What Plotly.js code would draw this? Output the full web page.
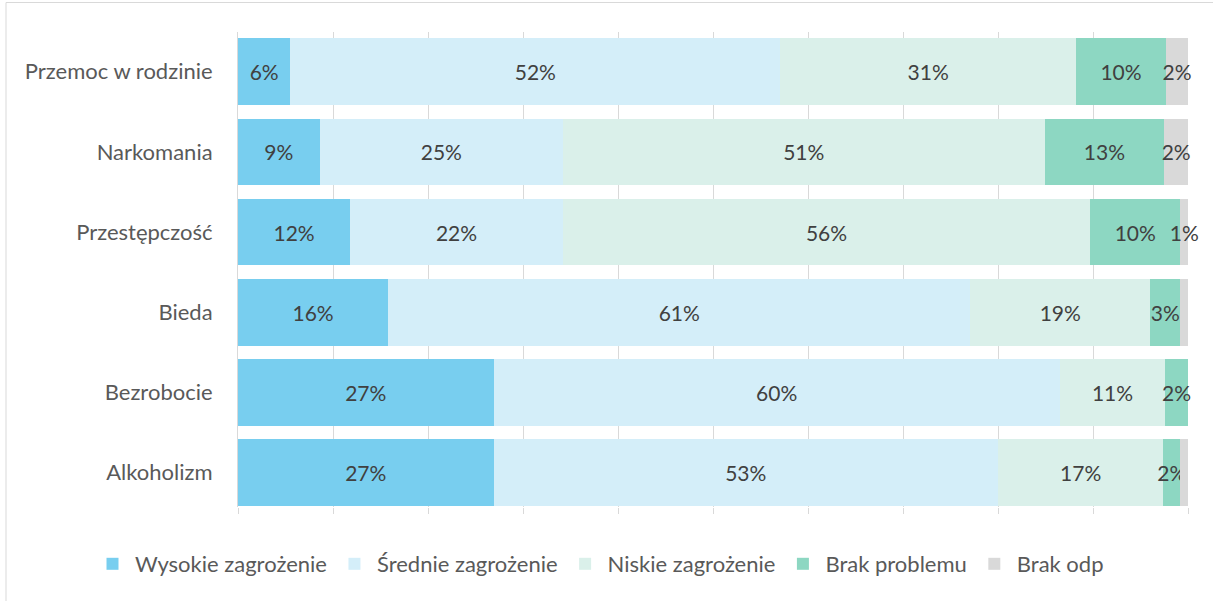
<!DOCTYPE html>
<html>
<head>
<meta charset="utf-8">
<script src="https://cdn.plot.ly/plotly-3.0.1.min.js"></script>
<style>html,body{margin:0;padding:0;background:#fff;}#chart{width:1213px;height:601px;}</style>
</head>
<body>
<div id="chart"></div>
<script>
// Categories, top to bottom
const categories = ["Przemoc w rodzinie", "Narkomania", "Przestępczość", "Bieda", "Bezrobocie", "Alkoholizm"];
const seriesNames = ["Wysokie zagrożenie", "Średnie zagrożenie", "Niskie zagrożenie", "Brak problemu", "Brak odp"];

// Segment sizes (percent)
const wysokie = [5.5, 8.6, 11.8, 15.8, 26.9, 26.9];
const srednie = [51.6, 25.6, 22.4, 61.3, 59.6, 53.1];
const niskie  = [31.1, 50.7, 55.5, 18.9, 11.1, 17.4];
const brakProblemu = [9.5, 12.6, 9.5, 3.2, 2.4, 1.8];
const brakOdp = [2.3, 2.5, 0.8, 0.8, 0, 0.8];

// Data labels as printed on the chart
const wysokieLabels = ["6%", "9%", "12%", "16%", "27%", "27%"];
const sredniaLabels = ["52%", "25%", "22%", "61%", "60%", "53%"];
const niskieLabels = ["31%", "51%", "56%", "19%", "11%", "17%"];
const brakProblemuLabels = ["10%", "13%", "10%", "3%", "2%", "2%"];
const brakOdpLabels = ["2%", "2%", "1%", "", "", ""];

const colors = ["#78CEEF", "#D4EEF9", "#DAF0EA", "#8DD7C2", "#D9D9D9"];
const values = [wysokie, srednie, niskie, brakProblemu, brakOdp];
const labels = [wysokieLabels, sredniaLabels, niskieLabels, brakProblemuLabels, brakOdpLabels];

const FONT = "Lato, 'Open Sans', sans-serif";

const traces = seriesNames.map((name, i) => ({
  type: "bar",
  orientation: "h",
  name: name,
  y: categories,
  x: values[i],
  text: labels[i],
  textposition: "inside",
  insidetextanchor: "middle",
  constraintext: "none",
  textangle: 0,
  cliponaxis: false,
  textfont: {family: FONT, size: 21, color: "#404040"},
  marker: {color: colors[i], line: {width: 0}},
  hoverinfo: "name+x"
}));

const layout = {
  width: 1213,
  height: 601,
  barmode: "stack",
  bargap: 0.17,
  paper_bgcolor: "#ffffff",
  plot_bgcolor: "#ffffff",
  margin: {l: 238, r: 25, t: 32, b: 94},
  font: {family: FONT, size: 22, color: "#595959"},
  showlegend: true,
  legend: {
    orientation: "h",
    x: (90 - 238) / 950, xref: "paper", xanchor: "left",
    y: (507 - 543) / 475, yref: "paper", yanchor: "top",
    font: {family: FONT, size: 22, color: "#595959"},
    traceorder: "normal",
    itemwidth: 35
  },
  xaxis: {
    range: [0, 100],
    dtick: 10,
    tick0: 0,
    showgrid: true,
    gridcolor: "#D9D9D9",
    gridwidth: 1,
    zeroline: false,
    showticklabels: false,
    ticks: "outside",
    ticklen: 6,
    tickcolor: "#D9D9D9",
    showline: false,
    fixedrange: true
  },
  yaxis: {
    type: "category",
    range: [5.428, -0.495],
    showgrid: false,
    zeroline: false,
    showline: true,
    linecolor: "#D9D9D9",
    linewidth: 1,
    ticks: "",
    ticklabelstandoff: 20,
    tickfont: {family: FONT, size: 22, color: "#595959"},
    fixedrange: true
  },
  shapes: [{
    type: "rect",
    xref: "paper", yref: "paper",
    x0: (6 - 238) / 950, x1: (1225 - 238) / 950,
    y0: (507 - 610) / 475, y1: (507 - 2.5) / 475,
    line: {color: "#D9D9D9", width: 1},
    fillcolor: "rgba(0,0,0,0)",
    layer: "below"
  }]
};

Plotly.newPlot("chart", traces, layout, {displayModeBar: false, staticPlot: true});
</script>
</body>
</html>
